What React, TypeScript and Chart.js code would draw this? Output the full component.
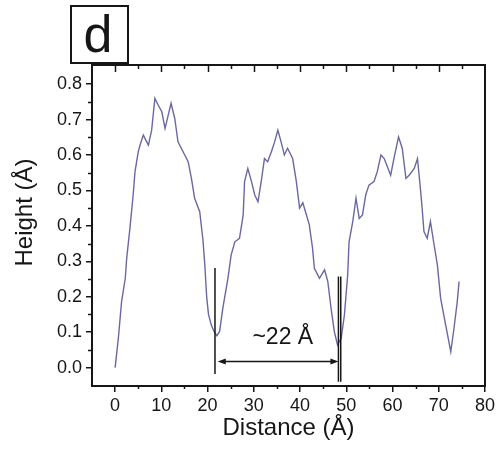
import { useEffect, useRef } from "react";
import { Chart, registerables } from "chart.js";

Chart.register(...registerables);

// Profile data: distance (Å) vs height (Å)
const distance = [
  0.0, 0.7, 1.4, 2.2, 2.5, 3.2, 3.9, 4.3, 5.0, 5.4, 6.1, 7.2, 7.9, 8.6, 9.3, 10.1, 10.8, 11.5, 12.1, 12.9,
  13.6, 14.7, 15.8, 16.5, 17.2, 18.3, 19.0, 19.4, 19.8, 20.2, 20.8, 21.4, 22.0, 22.6, 23.3, 24.4, 25.1, 25.9,
  26.9, 27.7, 28.0, 28.7, 29.5, 30.2, 30.9, 31.6, 32.3, 33.0, 33.8, 34.5, 35.2, 35.9, 36.6, 37.3, 38.4, 39.2,
  39.9, 40.6, 41.4, 42.0, 42.7, 43.1, 44.2, 45.3, 46.0, 46.7, 47.4, 48.1, 48.9, 49.6, 50.3, 50.6, 51.4, 52.1,
  52.8, 53.5, 54.2, 54.9, 56.0, 56.7, 57.5, 58.2, 59.6, 60.3, 61.3, 62.1, 62.9, 63.6, 64.7, 65.4, 66.1, 66.4,
  66.8, 67.5, 68.2, 69.0, 69.7, 70.4, 71.5, 72.6, 73.3, 74.0, 74.4,
];
const height = [
  0.0, 0.083, 0.186, 0.252, 0.308, 0.393, 0.487, 0.553, 0.609, 0.628, 0.656, 0.628, 0.67, 0.76, 0.741, 0.722, 0.675, 0.713, 0.746, 0.703,
  0.637, 0.609, 0.581, 0.534, 0.478, 0.44, 0.36, 0.29, 0.2, 0.15, 0.12, 0.102, 0.09, 0.102, 0.168, 0.252, 0.318, 0.355,
  0.365, 0.431, 0.525, 0.562, 0.525, 0.487, 0.468, 0.525, 0.59, 0.581, 0.609, 0.637, 0.67, 0.637, 0.6, 0.619, 0.59, 0.525,
  0.45, 0.465, 0.43, 0.403, 0.337, 0.28, 0.252, 0.276, 0.243, 0.168, 0.102, 0.064, 0.083, 0.149, 0.261, 0.355, 0.412, 0.478,
  0.421, 0.431, 0.487, 0.515, 0.525, 0.553, 0.6, 0.59, 0.543, 0.59, 0.651, 0.619, 0.534, 0.543, 0.562, 0.59, 0.496, 0.45,
  0.384, 0.365, 0.412, 0.346, 0.29, 0.196, 0.12, 0.045, 0.111, 0.186, 0.243,
];

// Annotation: vertical markers and the spacing arrow
const markerX = [21.6, 48.3, 48.8];
const markerTop = [0.281, 0.257, 0.257];
const markerBottom = [-0.018, -0.04, -0.04];
const arrowSpan = [22.2, 48.3];
const arrowY = 0.017;
const spacingLabel = "~22 Å";
const spacingLabelPos = [29.7, 0.067];

const panelLabel = "d";
const xTitle = "Distance (Å)";
const yTitle = "Height (Å)";

const FONT = "'Liberation Sans', Arial, Helvetica, sans-serif";
const INK = "#161616";

const decor = {
  id: "decor",
  afterDraw(chart: any) {
    const { ctx, chartArea: a } = chart;
    const x = chart.scales.x;
    const y = chart.scales.y;
    const line = (x1: number, y1: number, x2: number, y2: number) => {
      ctx.beginPath();
      ctx.moveTo(x1, y1);
      ctx.lineTo(x2, y2);
      ctx.stroke();
    };
    ctx.save();
    ctx.strokeStyle = INK;
    ctx.fillStyle = INK;

    // frame
    ctx.lineWidth = 2;
    ctx.strokeRect(a.left, a.top, a.right - a.left, a.bottom - a.top);

    // top inward ticks
    ctx.lineWidth = 1.5;
    for (let v = 0; v <= 75; v += 5) {
      const px = Math.round(x.getPixelForValue(v)) + 0.5;
      line(px, a.top, px, a.top + (v % 10 === 0 ? 7 : 4));
    }
    // bottom minor ticks
    for (let v = 5; v <= 75; v += 10) {
      const px = Math.round(x.getPixelForValue(v)) + 0.5;
      line(px, a.bottom, px, a.bottom + 3);
    }
    // left minor ticks
    for (let i = 0; i < 8; i++) {
      const py = Math.round(y.getPixelForValue(0.05 + i * 0.1)) + 0.5;
      line(a.left - 4, py, a.left, py);
    }

    // markers
    ctx.lineWidth = 1.5;
    markerX.forEach((mx, i) => {
      const px = x.getPixelForValue(mx);
      line(px, y.getPixelForValue(markerTop[i]), px, y.getPixelForValue(markerBottom[i]));
    });
    // arrow
    const ay = y.getPixelForValue(arrowY);
    const ax1 = x.getPixelForValue(arrowSpan[0]);
    const ax2 = x.getPixelForValue(arrowSpan[1]);
    ctx.lineWidth = 1.5;
    line(ax1 + 4, ay, ax2 - 4, ay);
    ctx.beginPath();
    ctx.moveTo(ax1, ay);
    ctx.lineTo(ax1 + 8, ay - 3);
    ctx.lineTo(ax1 + 8, ay + 3);
    ctx.closePath();
    ctx.fill();
    ctx.beginPath();
    ctx.moveTo(ax2, ay);
    ctx.lineTo(ax2 - 8, ay - 3);
    ctx.lineTo(ax2 - 8, ay + 3);
    ctx.closePath();
    ctx.fill();

    // spacing label
    ctx.font = `23px ${FONT}`;
    ctx.textAlign = "left";
    ctx.textBaseline = "alphabetic";
    ctx.fillText(spacingLabel, x.getPixelForValue(spacingLabelPos[0]), y.getPixelForValue(spacingLabelPos[1]));

    // panel label box
    ctx.lineWidth = 2;
    ctx.strokeRect(71, 6, 57, 57);
    ctx.font = `52px ${FONT}`;
    ctx.textAlign = "center";
    ctx.fillText(panelLabel, 98, 52);

    // axis titles
    ctx.font = `24px ${FONT}`;
    ctx.textAlign = "center";
    ctx.textBaseline = "alphabetic";
    ctx.fillText(xTitle, (a.left + a.right) / 2, 435);
    ctx.save();
    ctx.translate(32, 212.5);
    ctx.rotate(-Math.PI / 2);
    ctx.fillText(yTitle, 0, 0);
    ctx.restore();

    ctx.restore();
  },
};

export default function App() {
  const ref = useRef<HTMLCanvasElement | null>(null);
  useEffect(() => {
    if (!ref.current) return;
    const chart = new Chart(ref.current, {
      type: "line",
      data: {
        datasets: [
          {
            data: distance.map((d, i) => ({ x: d, y: height[i] })),
            borderColor: "#6a68a2",
            borderWidth: 1.4,
            pointRadius: 0,
            tension: 0,
            fill: false,
          },
        ],
      },
      options: {
        responsive: false,
        animation: false,
        devicePixelRatio: 1,
        layout: { padding: { top: 65, right: 12, left: 0, bottom: 0 } },
        plugins: { legend: { display: false }, tooltip: { enabled: false } },
        scales: {
          x: {
            type: "linear",
            min: -5,
            max: 80,
            afterFit: (s: any) => {
              s.height = 64;
            },
            ticks: {
              stepSize: 10,
              includeBounds: false,
              autoSkip: false,
              maxRotation: 0,
              padding: 3,
              color: INK,
              font: { family: FONT, size: 18 },
            },
            grid: { drawOnChartArea: false, tickLength: 6, color: INK, lineWidth: 1.5 },
            border: { display: false },
          },
          y: {
            type: "linear",
            min: -0.052,
            max: 0.854,
            afterFit: (s: any) => {
              s.width = 92;
            },
            ticks: {
              stepSize: 0.1,
              includeBounds: false,
              autoSkip: false,
              padding: 4,
              color: INK,
              font: { family: FONT, size: 18 },
              callback: (v: any) => Number(v).toFixed(1),
            },
            grid: { drawOnChartArea: false, tickLength: 6, color: INK, lineWidth: 1.5 },
            border: { display: false },
          },
        },
      },
      plugins: [decor],
    });
    return () => chart.destroy();
  }, []);
  return (
    <div style={{ position: "absolute", left: 0, top: 0, width: 498, height: 450 }}>
      <canvas ref={ref} width={498} height={450} style={{ display: "block" }} />
    </div>
  );
}
